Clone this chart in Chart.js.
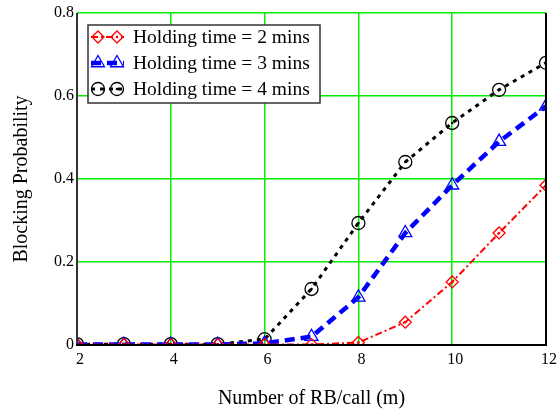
<!DOCTYPE html>
<html><head><meta charset="utf-8">
<script src="https://cdn.jsdelivr.net/npm/chart.js@4/dist/chart.umd.min.js"></script>
<style>html,body{margin:0;padding:0;background:#fff}</style>
</head><body>
<canvas id="c" width="559" height="412"></canvas>
<script>
const rbPerCall = [2,3,4,5,6,7,8,9,10,11,12];
const hold2 = [0.001,0.001,0.001,0.001,0.001,0.001,0.006,0.055,0.152,0.27,0.385];
const hold3 = [0.001,0.001,0.001,0.001,0.004,0.02,0.115,0.27,0.385,0.49,0.575];
const hold4 = [0.002,0.002,0.002,0.002,0.014,0.135,0.294,0.441,0.535,0.615,0.68];
const seriesLabels = ['Holding time = 2 mins','Holding time = 3 mins','Holding time = 4 mins'];
const xTicks = [2,4,6,8,10,12];
const yTicks = [0,0.2,0.4,0.6,0.8];
const xTitle = 'Number of RB/call (m)';
const yTitle = 'Blocking Probability';

const FONT = "'Liberation Serif', 'Times New Roman', serif";
const GRID = '#00ee00';

function pts(arr){ return rbPerCall.map((x,i)=>({x:x,y:arr[i]})); }

const styles = [
  {color:'#ff0000', dash:[7,3,2,3], width:2, point:'rectRot', r:6, dot:true},
  {color:'#0000ff', dash:[10,6], width:4.5, point:'triangle', r:7.5, dot:false},
  {color:'#000000', dash:[4,5], width:3, point:'circle', r:6.5, dot:true}
];
const values = [hold2, hold3, hold4];

const datasets = [];
values.forEach((v,i)=>{
  const s = styles[i];
  datasets.push({
    label: seriesLabels[i], data: pts(v),
    borderColor: s.color, borderWidth: s.width, borderDash: s.dash,
    pointStyle: s.point, pointRadius: s.r, pointBorderColor: s.color,
    pointBackgroundColor: 'rgba(0,0,0,0)', pointBorderWidth: 1.3,
    fill:false, tension:0, clip:0, order: i
  });
});
values.forEach((v,i)=>{
  const s = styles[i];
  if(!s.dot) return;
  datasets.push({
    label: seriesLabels[i]+' dot', data: pts(v), showLine:false,
    pointStyle:'circle', pointRadius:1.3, pointBorderWidth:0,
    pointBackgroundColor: s.color, pointBorderColor: s.color, clip:0, order: i
  });
});

function drawMarker(ctx, style, x, y, r){
  ctx.beginPath();
  if(style==='circle'){ ctx.arc(x,y,r,0,Math.PI*2); }
  else if(style==='rectRot'){ ctx.moveTo(x-r,y); ctx.lineTo(x,y-r); ctx.lineTo(x+r,y); ctx.lineTo(x,y+r); ctx.closePath(); }
  else if(style==='triangle'){
    for(let k=0;k<3;k++){ const a=-Math.PI/2+k*2*Math.PI/3; const px=x+Math.cos(a)*r, py=y+Math.sin(a)*r; if(k===0) ctx.moveTo(px,py); else ctx.lineTo(px,py);} ctx.closePath();
  }
  ctx.stroke();
}

const framePlugin = {
  id:'frame',
  afterDatasetsDraw(chart){
    const ctx=chart.ctx, a=chart.chartArea;
    ctx.save();
    ctx.setLineDash([]);
    ctx.lineWidth=2;
    ctx.strokeStyle='#333';
    ctx.beginPath(); ctx.moveTo(a.left, a.top); ctx.lineTo(a.left, a.bottom+1); ctx.stroke();
    ctx.strokeStyle='#000';
    ctx.beginPath(); ctx.moveTo(a.left-1, a.bottom); ctx.lineTo(a.right+1, a.bottom); ctx.stroke();
    ctx.beginPath(); ctx.moveTo(a.right, a.top); ctx.lineTo(a.right, a.bottom); ctx.stroke();
    ctx.restore();
  }
};

const legendPlugin = {
  id:'boxLegend',
  afterDraw(chart){
    const ctx=chart.ctx, a=chart.chartArea;
    const x0=a.left+11, y0=a.top+12, w=232, h=78;
    ctx.save();
    ctx.fillStyle='#fff'; ctx.fillRect(x0,y0,w,h);
    ctx.setLineDash([]);
    ctx.strokeStyle='#333'; ctx.lineWidth=1.5; ctx.strokeRect(x0,y0,w,h);
    for(let i=0;i<3;i++){
      const s=styles[i];
      const y=y0+12+i*26;
      ctx.strokeStyle=s.color; ctx.lineWidth=s.width; ctx.setLineDash(s.dash);
      ctx.beginPath(); ctx.moveTo(x0+3,y); ctx.lineTo(x0+36,y); ctx.stroke();
      ctx.setLineDash([]); ctx.lineWidth=1.3;
      drawMarker(ctx, s.point, x0+10, y, s.r);
      drawMarker(ctx, s.point, x0+29, y, s.r);
      if(s.dot){ ctx.fillStyle=s.color; ctx.beginPath(); ctx.arc(x0+29,y,1.3,0,Math.PI*2); ctx.fill(); }
      ctx.fillStyle='#000'; ctx.font='19.5px '+FONT; ctx.textBaseline='middle'; ctx.textAlign='left';
      ctx.fillText(seriesLabels[i], x0+45, y+1);
    }
    ctx.restore();
  }
};

new Chart(document.getElementById('c'), {
  type:'line',
  data:{datasets},
  options:{
    responsive:false, animation:false,
    layout:{padding:{top:13,right:13,left:0,bottom:0}},
    plugins:{legend:{display:false}, tooltip:{enabled:false}},
    scales:{
      x:{
        type:'linear', min:2, max:12,
        afterBuildTicks(s){ s.ticks = xTicks.map(v=>({value:v})); },
        afterFit(s){ s.height = 67; },
        grid:{color:GRID, lineWidth:1.5, drawTicks:false},
        border:{display:false},
        ticks:{color:'#000', font:{family:FONT,size:16}, padding:5, labelOffset:3, maxRotation:0, autoSkip:false},
        title:{display:true, text:xTitle, color:'#000', font:{family:FONT,size:20}, padding:{top:0,bottom:1}}
      },
      y:{
        type:'linear', min:0, max:0.8,
        afterBuildTicks(s){ s.ticks = yTicks.map(v=>({value:v})); },
        afterFit(s){ s.width = 77; },
        grid:{color:GRID, lineWidth:1.5, drawTicks:false},
        border:{display:false},
        ticks:{color:'#000', font:{family:FONT,size:16}, padding:3, callback:v=>String(+v.toFixed(1))},
        title:{display:true, text:yTitle, color:'#000', font:{family:FONT,size:20}, padding:{top:10,bottom:0}}
      }
    }
  },
  plugins:[framePlugin, legendPlugin]
});
</script>
</body></html>
